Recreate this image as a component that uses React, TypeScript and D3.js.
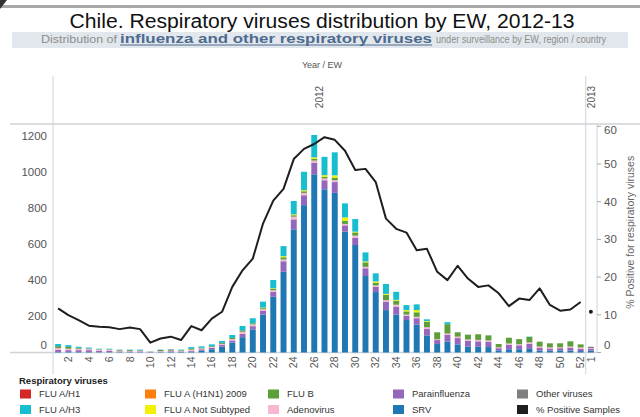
import React, { useEffect, useRef } from 'react';
import * as d3 from 'd3';

// EW categories: 2012 weeks 1..52 plus week 1 of 2013
const weeks: string[] = [...d3.range(1, 53).map(w => `2012-${w}`), '2013-1'];
const tickWeeks: string[] = [...d3.range(2, 53, 2).map(w => `2012-${w}`), '2013-1'];

// counts per virus, one value per week
const srv = [3, 3, 3, 3, 2, 2, 2, 2, 2, 1, 2, 3, 3, 5, 10, 18, 32, 55, 85, 128, 210, 309, 448, 683, 817, 988, 905, 885, 670, 596, 424, 335, 235, 210, 180, 155, 95, 47, 60, 45, 32, 32, 30, 12, 18, 18, 20, 10, 10, 12, 10, 8, 10];
const parainfluenza = [12, 10, 10, 10, 8, 8, 4, 4, 4, 2, 3, 4, 3, 5, 8, 8, 10, 12, 18, 18, 22, 28, 58, 55, 55, 64, 50, 60, 35, 40, 43, 30, 45, 45, 23, 35, 35, 22, 37, 35, 32, 30, 30, 12, 25, 22, 28, 15, 12, 12, 15, 12, 10];
const adenovirus = [10, 8, 8, 6, 6, 6, 4, 3, 3, 1, 3, 3, 3, 4, 5, 5, 6, 8, 12, 10, 8, 8, 10, 15, 13, 12, 10, 10, 8, 12, 8, 7, 10, 10, 7, 8, 10, 5, 8, 8, 8, 8, 7, 5, 7, 6, 8, 8, 6, 5, 8, 8, 4];
const fluB = [10, 10, 5, 3, 2, 2, 4, 5, 3, 1, 6, 4, 3, 3, 3, 4, 5, 6, 8, 6, 6, 8, 12, 8, 9, 10, 10, 15, 18, 18, 25, 15, 30, 22, 18, 25, 30, 38, 52, 24, 27, 31, 28, 18, 32, 28, 30, 27, 23, 22, 29, 17, 0];
const fluANotSubtyped = [0, 0, 0, 0, 0, 0, 0, 0, 0, 0, 0, 0, 0, 0, 0, 0, 0, 0, 0, 0, 3, 3, 6, 5, 6, 8, 8, 12, 18, 4, 5, 7, 5, 5, 7, 12, 4, 0, 0, 0, 0, 0, 0, 0, 0, 0, 0, 0, 0, 0, 0, 0, 0];
const fluAH1N1 = [0, 0, 0, 0, 0, 0, 0, 0, 0, 0, 0, 0, 0, 3, 0, 0, 0, 0, 0, 0, 0, 0, 0, 0, 0, 0, 0, 0, 0, 0, 0, 0, 0, 0, 0, 0, 0, 0, 0, 0, 0, 0, 0, 0, 0, 0, 0, 0, 0, 0, 0, 0, 0];
const fluAH1 = [0, 0, 0, 0, 0, 0, 0, 0, 0, 0, 0, 2, 0, 0, 0, 0, 0, 0, 0, 0, 0, 0, 0, 0, 0, 0, 0, 0, 0, 0, 0, 0, 0, 0, 0, 0, 0, 0, 0, 0, 0, 0, 0, 0, 0, 0, 0, 0, 0, 0, 0, 0, 0];
const otherViruses = [0, 0, 0, 0, 0, 0, 0, 0, 0, 0, 0, 0, 0, 0, 0, 0, 0, 0, 0, 0, 0, 0, 0, 0, 0, 0, 0, 0, 0, 0, 0, 0, 0, 0, 0, 0, 0, 0, 0, 0, 0, 0, 0, 0, 0, 0, 0, 0, 0, 0, 0, 0, 8];
const fluAH3 = [12, 10, 6, 5, 3, 3, 2, 2, 4, 1, 2, 2, 4, 10, 8, 10, 11, 16, 24, 28, 33, 46, 56, 74, 102, 124, 102, 128, 78, 70, 50, 45, 55, 45, 28, 32, 10, 0, 11, 0, 0, 0, 0, 0, 0, 0, 2, 0, 0, 0, 0, 0, 0];

// % positive samples (right axis)
const pctPositive2012 = [11.7, 9.9, 8.6, 7.1, 6.8, 6.7, 6.2, 6.6, 6.2, 2.6, 3.7, 4.2, 3.3, 7.0, 5.9, 9.0, 10.8, 17.4, 21.8, 24.9, 34.2, 40.3, 43.4, 51.3, 54.0, 55.3, 57.1, 56.4, 53.5, 48.4, 48.7, 45.2, 35.5, 32.8, 31.8, 27.1, 27.5, 21.4, 19.2, 23.0, 19.6, 17.4, 17.8, 15.7, 12.3, 14.3, 13.9, 17.0, 12.6, 11.1, 11.4, 13.4];
const pctPositive2013 = [10.8];

const leftTicks = [0, 200, 400, 600, 800, 1000, 1200];
const rightTicks = [0, 10, 20, 30, 40, 50, 60];

// stacking order, bottom to top
const stackKeys = ['srv', 'para', 'adeno', 'flub', 'nst', 'h1n1', 'h1', 'other', 'h3'];
const seriesData: Record<string, number[]> = {
  srv, para: parainfluenza, adeno: adenovirus, flub: fluB, nst: fluANotSubtyped,
  h1n1: fluAH1N1, h1: fluAH1, other: otherViruses, h3: fluAH3,
};
const colors: Record<string, string> = {
  h1: '#d62728', h3: '#17becf', h1n1: '#ff7f0e', nst: '#f2f200', flub: '#5c9e38',
  adeno: '#f7b6d2', para: '#9467bd', srv: '#1f77b4', other: '#7f7f7f', pct: '#1e1e1e',
};
const legendColumns = [
  [['h1', 'FLU A/H1'], ['h3', 'FLU A/H3']],
  [['h1n1', 'FLU A (H1N1) 2009'], ['nst', 'FLU A Not Subtyped']],
  [['flub', 'FLU B'], ['adeno', 'Adenovirus']],
  [['para', 'Parainfluenza'], ['srv', 'SRV']],
  [['other', 'Other viruses'], ['pct', '% Positive Samples']],
];

const FONT = '"Liberation Sans", Arial, sans-serif';

const App: React.FC = () => {
  const svgRef = useRef<SVGSVGElement | null>(null);

  useEffect(() => {
    if (!svgRef.current) return;
    const width = 640;
    const height = 417;
    const svg = d3.select(svgRef.current);
    svg.selectAll('*').remove();

    const plot = { left: 53, right: 596, top: 124, bottom: 352.5 };

    const x = d3.scaleBand<string>().domain(weeks).range([plot.left, plot.right])
      .paddingInner(0.42).paddingOuter(0.21);
    const yLeft = d3.scaleLinear().domain([0, 1267]).range([plot.bottom, plot.top]);
    const yRight = d3.scaleLinear().domain([0, 60.6]).range([plot.bottom, plot.top]);
    const cx = (w: string) => (x(w) as number) + x.bandwidth() / 2;

    svg.append('rect').attr('width', width).attr('height', height).attr('fill', '#fff');

    // --- header ---
    svg.append('rect').attr('x', 0).attr('y', 5).attr('width', width).attr('height', 3).attr('fill', '#a8a8a8');
    svg.append('path').attr('d', 'M0,0 L7,0 L0,9 Z').attr('fill', '#333');

    svg.append('text')
      .attr('x', 322).attr('y', 27.5).attr('text-anchor', 'middle')
      .attr('font-family', FONT).attr('font-size', 20).attr('fill', '#111')
      .attr('textLength', 505).attr('lengthAdjust', 'spacingAndGlyphs')
      .text('Chile. Respiratory viruses distribution by EW, 2012-13');

    svg.append('rect').attr('x', 12).attr('y', 32).attr('width', 616).attr('height', 16).attr('fill', '#e2e7ed');
    svg.append('text')
      .attr('x', 41).attr('y', 43).attr('font-family', FONT).attr('font-size', 10.5).attr('fill', '#8c8c8c')
      .attr('textLength', 76).attr('lengthAdjust', 'spacingAndGlyphs')
      .text('Distribution of');
    svg.append('text')
      .attr('x', 120).attr('y', 43).attr('font-family', FONT).attr('font-size', 12.5)
      .attr('font-weight', 'bold').attr('fill', '#4d6b8e')
      .attr('textLength', 312).attr('lengthAdjust', 'spacingAndGlyphs')
      .text('influenza and other respiratory viruses');
    svg.append('line').attr('x1', 120).attr('x2', 432).attr('y1', 45).attr('y2', 45)
      .attr('stroke', '#4d6b8e').attr('stroke-width', 1);
    svg.append('text')
      .attr('x', 436).attr('y', 43).attr('font-family', FONT).attr('font-size', 10.5).attr('fill', '#8c8c8c')
      .attr('textLength', 170).attr('lengthAdjust', 'spacingAndGlyphs')
      .text('under surveillance by EW, region / country');

    svg.append('text')
      .attr('x', 322).attr('y', 68).attr('text-anchor', 'middle')
      .attr('font-family', FONT).attr('font-size', 9).attr('fill', '#555')
      .text('Year  /  EW');

    // --- frame lines ---
    const grid = '#cfd3d6';
    const yearSep = (x('2013-1') as number) - (x.step() * x.paddingInner()) / 2;
    [plot.left, yearSep].forEach(xx => {
      svg.append('line').attr('x1', xx).attr('x2', xx).attr('y1', 76).attr('y2', 374)
        .attr('stroke', grid).attr('stroke-width', 1);
    });
    svg.append('line').attr('x1', plot.right + 1).attr('x2', plot.right + 1)
      .attr('y1', plot.top).attr('y2', plot.bottom).attr('stroke', grid);
    svg.append('line').attr('x1', 10).attr('x2', 640).attr('y1', plot.top).attr('y2', plot.top)
      .attr('stroke', grid).attr('stroke-width', 1.5);
    svg.append('line').attr('x1', 10).attr('x2', plot.right + 1).attr('y1', plot.bottom).attr('y2', plot.bottom)
      .attr('stroke', grid).attr('stroke-width', 1.5);

    // year headers
    [['2012', (plot.left + yearSep) / 2], ['2013', (yearSep + plot.right + 1) / 2]].forEach(([label, xx]) => {
      svg.append('text')
        .attr('transform', `translate(${xx},97) rotate(-90)`)
        .attr('text-anchor', 'middle').attr('dy', '0.35em')
        .attr('font-family', FONT).attr('font-size', 10).attr('fill', '#555')
        .text(label as string);
    });

    // --- stacked bars ---
    const rows = weeks.map((wk, i) => {
      const r: Record<string, number | string> = { wk };
      stackKeys.forEach(k => { r[k] = seriesData[k][i]; });
      return r;
    });
    const stacked = d3.stack<Record<string, number | string>>().keys(stackKeys)
      .value((d, k) => d[k] as number)(rows);

    const gBars = svg.append('g');
    stacked.forEach(layer => {
      gBars.append('g').attr('fill', colors[layer.key])
        .selectAll('rect')
        .data(layer.filter(d => d[1] > d[0]))
        .join('rect')
        .attr('x', d => x(d.data.wk as string) as number)
        .attr('width', x.bandwidth())
        .attr('y', d => yLeft(d[1]))
        .attr('height', d => yLeft(d[0]) - yLeft(d[1]));
    });

    // --- % positive line ---
    const line = d3.line<number>()
      .x((_, i) => cx(weeks[i]))
      .y(d => yRight(d));
    svg.append('path').datum(pctPositive2012)
      .attr('d', line).attr('fill', 'none')
      .attr('stroke', colors.pct).attr('stroke-width', 2).attr('stroke-linejoin', 'round');
    svg.append('circle')
      .attr('cx', cx('2013-1')).attr('cy', yRight(pctPositive2013[0])).attr('r', 2)
      .attr('fill', colors.pct);

    // --- axes ---
    const tickText = '#555';
    leftTicks.forEach(t => {
      svg.append('text')
        .attr('x', 47).attr('y', t === 0 ? yLeft(t) - 8 : yLeft(t)).attr('dy', '0.35em')
        .attr('text-anchor', 'end').attr('font-family', FONT).attr('font-size', 11.5)
        .attr('fill', tickText).text(d3.format('d')(t));
    });
    rightTicks.forEach(t => {
      const yy = yRight(t);
      svg.append('line').attr('x1', plot.right + 1).attr('x2', plot.right + 5)
        .attr('y1', yy).attr('y2', yy).attr('stroke', '#aaa');
      const ly = t === 0 ? yy - 8 : t === 60 ? yy + 3.5 : yy;
      svg.append('text')
        .attr('x', 604).attr('y', ly).attr('dy', '0.35em')
        .attr('font-family', FONT).attr('font-size', 11.5).attr('fill', tickText)
        .text(String(t));
    });
    svg.append('text')
      .attr('transform', `translate(630,${(plot.top + plot.bottom) / 2 - 6}) rotate(-90)`)
      .attr('text-anchor', 'middle').attr('dy', '0.35em')
      .attr('font-family', FONT).attr('font-size', 10.5).attr('fill', '#666')
      .text('% Positive for respiratory viruses');

    tickWeeks.forEach(w => {
      svg.append('text')
        .attr('transform', `translate(${cx(w)},${plot.bottom + 4}) rotate(-90)`)
        .attr('text-anchor', 'end').attr('dy', '0.35em')
        .attr('font-family', FONT).attr('font-size', 10.5).attr('fill', tickText)
        .text(w.split('-')[1]);
    });

    // --- legend ---
    svg.append('text')
      .attr('x', 19).attr('y', 384).attr('font-family', FONT).attr('font-size', 9.5)
      .attr('font-weight', 'bold').attr('fill', '#222').text('Respiratory viruses');
    const colX = [20, 145, 268, 393, 517];
    const rowY = [394, 409.5];
    legendColumns.forEach((col, ci) => {
      col.forEach(([key, label], ri) => {
        svg.append('rect')
          .attr('x', colX[ci]).attr('y', rowY[ri] - 4.5).attr('width', 11).attr('height', 9)
          .attr('fill', colors[key]);
        svg.append('text')
          .attr('x', colX[ci] + 19).attr('y', rowY[ri]).attr('dy', '0.35em')
          .attr('font-family', FONT).attr('font-size', 9.5).attr('fill', '#333')
          .text(label);
      });
    });
  }, []);

  return (
    <svg ref={svgRef} width={640} height={417}
      style={{ position: 'absolute', left: 0, top: 0, display: 'block' }} />
  );
};

export default App;
